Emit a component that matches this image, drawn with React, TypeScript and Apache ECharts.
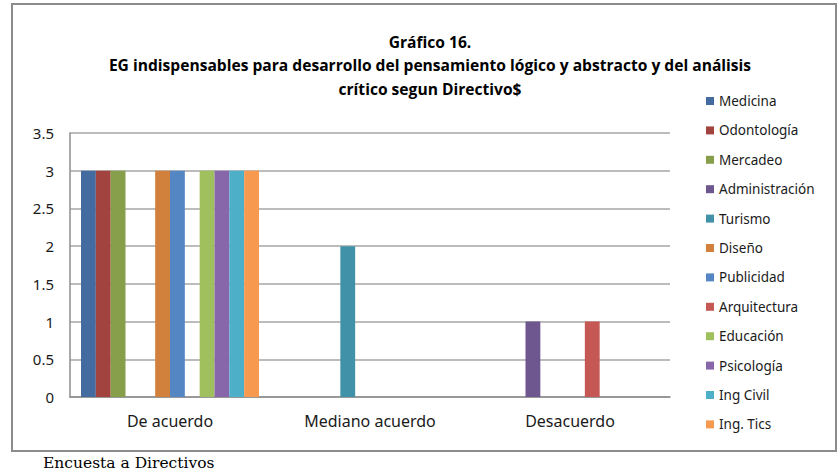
import React, { useEffect, useRef } from "react";
import * as echarts from "echarts";

const categories = ["De acuerdo", "Mediano acuerdo", "Desacuerdo"];
const seriesNames = [
  "Medicina", "Odontología", "Mercadeo", "Administración", "Turismo", "Diseño",
  "Publicidad", "Arquitectura", "Educación", "Psicología", "Ing Civil", "Ing. Tics",
];
const medicina = [3, 0, 0];
const odontologia = [3, 0, 0];
const mercadeo = [3, 0, 0];
const administracion = [0, 0, 1];
const turismo = [0, 2, 0];
const diseno = [3, 0, 0];
const publicidad = [3, 0, 0];
const arquitectura = [0, 0, 1];
const educacion = [3, 0, 0];
const psicologia = [3, 0, 0];
const ingCivil = [3, 0, 0];
const ingTics = [3, 0, 0];
const seriesValues = [
  medicina, odontologia, mercadeo, administracion, turismo, diseno,
  publicidad, arquitectura, educacion, psicologia, ingCivil, ingTics,
];
const colors = [
  "#436BA0", "#A3433F", "#879F4B", "#6E568E", "#4192A9", "#D1813B",
  "#5486C3", "#C55854", "#9FC05D", "#8767A9", "#4EAFC9", "#F7994E",
];
const titleLines = [
  "Gráfico 16.",
  "EG indispensables para desarrollo del pensamiento lógico y abstracto y del análisis",
  "crítico segun Directivo$",
];
const footerText = "Encuesta a Directivos";

export default function App() {
  const ref = useRef<HTMLDivElement>(null);
  useEffect(() => {
    if (!ref.current) return;
    const chart = echarts.init(ref.current, null, { renderer: "svg" });
    chart.setOption({
      animation: false,
      color: colors,
      grid: { left: 70, right: 168, top: 133, bottom: 77, containLabel: false },
      legend: {
        orient: "vertical",
        left: 706,
        top: 94,
        padding: 0,
        itemWidth: 8,
        itemHeight: 8,
        itemGap: 15.4,
        icon: "rect",
        data: seriesNames,
        textStyle: {
          fontFamily: "Noto Sans",
          fontSize: 13.5,
          lineHeight: 12,
          color: "#1a1a1a",
        },
      },
      xAxis: {
        type: "category",
        data: categories,
        axisLine: { lineStyle: { color: "#8c8c8c", width: 1.5 } },
        axisTick: { show: false },
        axisLabel: {
          fontFamily: "Noto Sans",
          fontSize: 16,
          color: "#1a1a1a",
          margin: 16,
        },
      },
      yAxis: {
        type: "value",
        min: 0,
        max: 3.5,
        interval: 0.5,
        axisLine: { show: true, lineStyle: { color: "#8c8c8c", width: 1.5 } },
        axisTick: { show: false },
        axisLabel: {
          fontFamily: "Noto Sans",
          fontSize: 15,
          color: "#1a1a1a",
          margin: 16,
        },
        splitLine: { lineStyle: { color: "#a6a6a6", width: 1.5 } },
      },
      series: seriesNames.map((name, i) => ({
        name,
        type: "bar",
        data: seriesValues[i],
        barGap: "0%",
        barCategoryGap: "11%",
        itemStyle: { color: colors[i] },
      })),
      graphic: [
        {
          type: "rect",
          shape: { x: 12, y: 4, width: 824, height: 447 },
          style: { fill: "none", stroke: "#8c8c8c", lineWidth: 2 },
          silent: true,
        },
        {
          type: "text",
          x: 430,
          y: 30,
          style: {
            text: titleLines.join("\n"),
            fontFamily: "Open Sans",
            fontWeight: "bold",
            fontSize: 15.6,
            lineHeight: 23.5,
            textAlign: "center",
            textVerticalAlign: "top",
            fill: "#000",
          },
        },
        {
          type: "text",
          x: 43,
          y: 463,
          style: {
            text: footerText,
            fontFamily: "DejaVu Serif",
            fontSize: 15.5,
            textAlign: "left",
            textVerticalAlign: "middle",
            fill: "#000",
          },
        },
      ],
    });
    return () => chart.dispose();
  }, []);
  return (
    <div
      ref={ref}
      style={{ position: "absolute", left: 0, top: 0, width: 838, height: 474, background: "#fff" }}
    />
  );
}
